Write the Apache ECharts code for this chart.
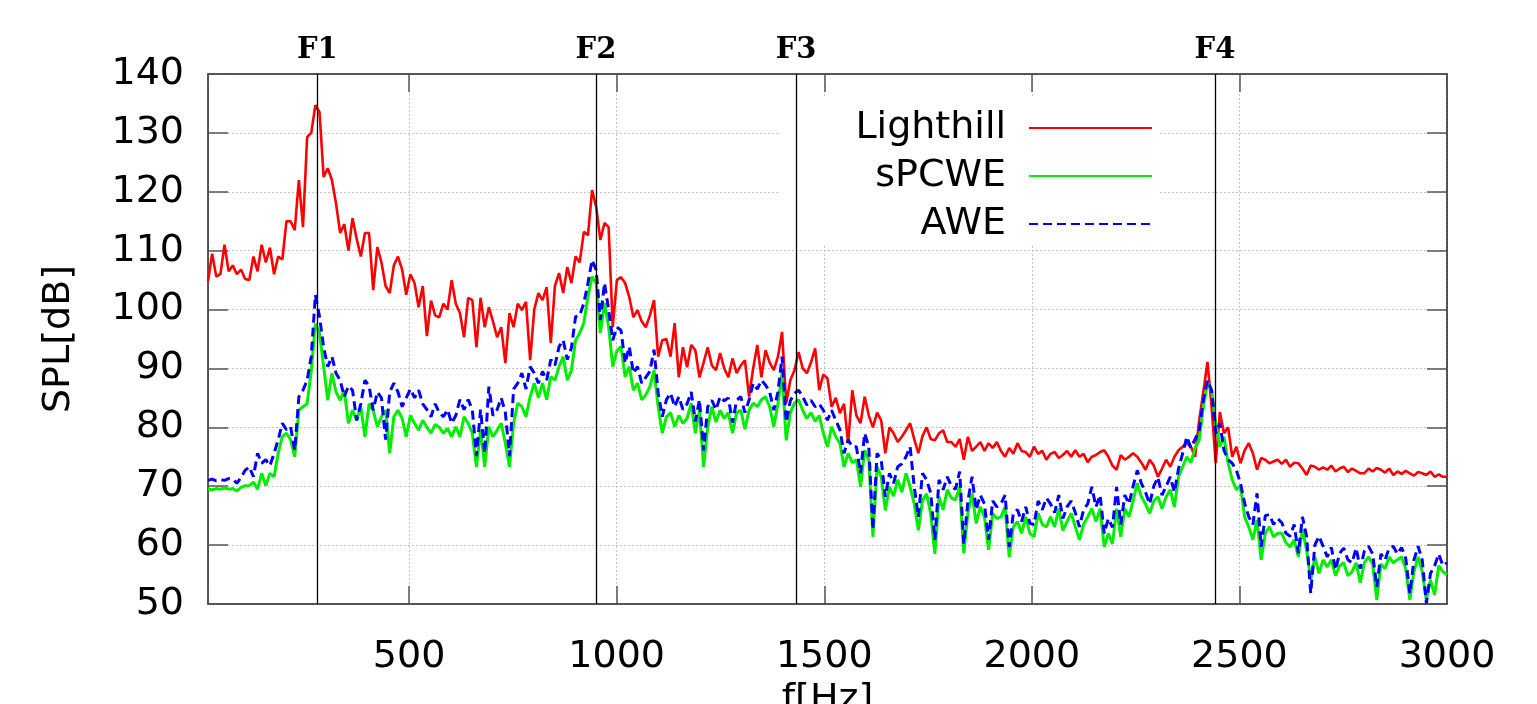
<!DOCTYPE html>
<html>
<head>
<meta charset="utf-8">
<script src="https://cdn.jsdelivr.net/npm/echarts@6/dist/echarts.min.js"></script>
<style>
html,body{margin:0;padding:0;background:#fff;}
#chart{width:1537px;height:704px;}
</style>
</head>
<body>
<div id="chart"></div>
<script>
// Frequency sampling grid (Hz): first bin and bin width
const F_START = 15.6;
const F_STEP = 9.948;

// Resonance markers
const markerFreqs = [279, 950, 1432, 2441];
const markerNames = ['F1', 'F2', 'F3', 'F4'];

const seriesNames = ['Lighthill', 'sPCWE', 'AWE'];

// SPL [dB], Lighthill
const lighthill = [
104.8,109.5,105.6,106,111,106.5,107.5,106,106.8,105.2,
105,109,106.5,111,108,110.5,106,109,108.5,115,
115,113.5,122,114,129.3,130,134.7,133.5,122.5,124,
122,118,113,114.5,110,115.5,112,109,113,113,
103.3,110.6,108,104,102.8,107.5,109,106.8,102.5,106,
104.5,100.4,104,95.5,101.5,99,98.7,101,100,105,
101,99.4,95.3,102,101.6,93.6,102,97,100.4,98,
95.3,97,90.9,99.4,97,101,99.9,101.3,91.4,100,
102.8,101.6,103.8,94.3,104,106.2,102.8,107.2,104.5,109,
108,113.2,112.6,120.3,117.4,111.8,114.7,114,97,105,
105.5,104.5,102.1,98.7,99.9,98,97,99,101.6,92,
94.8,95,92,97.7,88.5,93.6,90.2,94,93.1,88.5,
91,93.6,90.5,89.7,92.6,90,88.5,91.7,89.2,90.5,
91.4,85.2,90,94,88.5,93.1,91,89.7,92,96.2,
84.1,88,89.7,92.8,90,89.2,91,93.4,86.3,89,
88.3,83.5,85,82.4,84,77.3,86.3,82,80.7,85.2,
82,80,82.5,81.2,75.6,80,79,77.5,78.4,79.5,
80.7,78,75.6,78.5,80,78,77.8,79,79.5,77.5,
77.5,76.7,78,74.5,78.4,76,76.7,77.5,76,77.3,
76.5,77.5,76,75,76.5,75.5,77.3,76,75.8,75,
76.7,75.5,76,74.5,75.5,75.8,74.8,75.3,76,75,
76.1,75,75.5,74.1,75,75.3,75.8,76.1,75,73.5,
72.8,75.3,74.5,75,75.6,75,74,72.8,74.5,73.5,
71.6,73,74.5,73.3,75,76.1,76.7,77.3,76.7,75,
81.2,86,91.1,83.5,73.9,82.6,79,80,75,76.7,
73.9,76.1,77.3,75.6,72.8,74.8,74.5,73.9,74.2,74.5,
73.8,74.5,73.3,74,73.9,73,71.9,73.5,73.3,72.8,
73.2,72.8,73.5,72.5,73,73.3,72.4,73,72.6,72.2,
72.2,73,72.5,73.1,72.8,72.3,73,71.9,72.5,72.1,
72.6,72.2,71.8,72.4,72.2,71.9,72.5,71.6,72,71.6,
71.6
];

// SPL [dB], sPCWE
const spcwe = [
69.5,69.4,69.6,69.5,69.7,69.5,69.6,69.2,69.8,70.1,
70.1,70.7,69.5,72.2,70.1,72.2,71.6,75.6,78.4,79,
77.9,75,82.9,83.5,84,89.5,97.6,96,90.3,84.6,
89.2,86,84.6,86.3,80.7,82.9,81.2,83.5,78.4,84,
82.9,80.1,81.8,82.9,75.6,81.8,82.9,81.5,78.4,82,
80.7,79.5,81.2,80,79,80.5,80,79,79.8,78.4,
80.1,78.4,81.8,80.7,79,73.3,79.6,73.3,80.1,78.4,
79.5,80.7,77.3,73.3,80.7,84.1,83.5,81.8,85.2,87.5,
85,87.5,84.7,88.6,88,90.3,92,88,89.7,94.8,
96,97.7,102.2,105.6,104.5,96,101.1,97.1,90.3,93,
93.7,88.6,90.3,86.3,87.5,84.7,85.5,86.9,89.7,83.5,
79,81.8,82.5,80.1,82,80.7,81.5,84.1,79,82.9,
73.3,80.1,83.5,80.9,82.9,81.5,82.5,79,82.5,82.9,
79.7,82.9,84.1,83.5,84.7,85.2,83.5,80.1,84,89.2,
77.8,82.5,84.1,84.7,82.9,81.5,82.5,81,82,79,
76.7,80.1,78.4,77.3,73.3,75.6,74,74.5,69.9,76.1,
74.5,61.4,73.3,71.6,65.9,69.9,68.3,71.1,69,72.2,
69.9,67,62.5,67.6,68.7,65.3,58.5,68.2,66,69.4,
68,67.7,69.9,58.6,65.4,68.8,63.7,66.5,64.8,59.2,
65.4,64.5,64.8,66.5,58,63.1,64,62,64.8,62,
61.4,65.4,63.5,63.1,64.8,63.1,66.2,62.5,64,65.4,
63.1,60.9,63.5,64.8,66.2,64,66.2,59.7,62,60.2,
66.2,61.4,66.2,64.8,67.5,70.5,68.2,67,65.4,67.5,
68.2,66.2,68.2,69.4,66.5,71.6,73.3,75,74,76.5,
77.8,83.5,87.5,86.3,80.7,76.7,78.4,73.9,71.1,69.4,
70,64.8,63.1,60.9,64.3,57.5,62,63.1,61.4,62,
62,60.4,59.7,60.9,58,62.6,59.2,54.1,58,55.2,
57.5,56.3,57.5,54.8,56.5,57,54.8,55.5,57,53.6,
57,58,56.8,50.7,56.8,56,58,57,57.5,58,
56,50.7,55.5,58,55.5,50.7,54.1,51.5,56.5,55.5,
55
];

// SPL [dB], AWE
const awe = [
71,71.2,70.9,71.1,71,71.3,71.2,70.5,71.5,72.7,
73.3,71.6,75.6,73.9,74.5,73.5,75.6,77.9,80.7,79.6,
80.1,76.1,85.2,86.3,88,92,102.5,98.8,93.6,90.3,
92,89.2,88,85.2,87,86.3,81.2,84,88,87,
82.9,86,85,77.9,86,87.5,86,83.5,85,86.5,
85,86.3,84,83,81.8,84,82.5,81.8,83,80.7,
82,84.7,83,84.7,83,75.1,83,75.6,86.9,82,
83,85,82.5,75.1,86.5,87.5,89.2,86.5,90.3,89.2,
87.5,89.5,88,91.5,90.5,93.7,94.8,91.5,93.5,98.8,
99,101.1,104.5,108.4,106.7,98.2,104.5,100,94.8,97,
96.5,90.9,93.7,89.2,90.3,87.5,88.5,89.5,93.2,85.8,
81.8,84.7,85.8,83.5,85.2,83,84,86,81,84.7,
76.1,83.5,84.6,83,85.2,84.5,85,80.8,84.6,85.2,
82.5,84.6,87.5,86.5,88,87.2,86,82.9,86,92,
80.9,84.5,85.8,86.3,85.2,83.8,84.6,83.5,84,82.9,
81.2,82.9,81.2,79.6,75.6,77.9,76.7,76.7,72.2,79,
76.7,62.6,75.6,74.5,68.2,72.2,70.5,73.3,73.8,75,
76.7,69.9,64.8,72.2,71.1,68.8,60.9,71.1,69.4,71.6,
70,69.5,72.5,60.2,67.5,71.6,66,68.5,67,60.9,
67.5,66.5,67,68.5,59.7,65.5,66,64,66.5,63.7,
63.5,67.5,66,68,67,65.5,68.5,64.5,66.5,67.5,
65.5,63.1,66,67,69.9,66.5,68.5,62,64.5,63,
69.9,63.5,68.5,67,70,72.7,70.5,69,67,70,
71.5,68.5,70,71.6,69,73,75.6,78.4,76.5,78,
79.5,84.6,88,86.3,79,80.7,76.1,74.5,73.9,72.7,
70.5,67.1,64.8,63.5,68.8,59.7,65,65.2,63.5,64.5,
63.8,62,61.5,63.5,58.6,64.8,61.5,51.8,60,61.5,
59.8,58,59.6,55.8,58.6,59.5,57.5,57,59.5,56,
59,59.8,58.5,52.9,58.5,57.5,59.5,59.8,58.5,59.6,
57.8,51.8,57.5,59.8,57.5,50.1,55.2,56.5,58.5,56.5,
57
];

const freqs = lighthill.map((_, i) => +(F_START + i * F_STEP).toFixed(2));
const toPairs = vals => vals.map((v, i) => [freqs[i], v]);

const FONT = 'DejaVu Sans';
const chart = echarts.init(document.getElementById('chart'), null, {renderer: 'canvas'});

const axisLineStyle = {color: '#222', width: 1.5};
const tickStyle = {color: '#555', width: 1.5};
const gridStyle = {color: '#c4c4c4', type: [2, 2], width: 1};

const option = {
  animation: false,
  backgroundColor: '#ffffff',
  grid: {left: 208, right: 90, top: 74, bottom: 100, containLabel: false, outerBoundsMode: 'none'},
  legend: {
    orient: 'vertical',
    right: 377,
    top: 97,
    align: 'right',
    itemWidth: 123,
    itemHeight: 20,
    itemGap: 8,
    padding: [11, 7, 2, 75],
    backgroundColor: '#ffffff',
    selectedMode: false,
    itemStyle: {color: 'rgba(0,0,0,0)', borderWidth: 0},
    textStyle: {fontSize: 38, fontFamily: FONT, color: '#000', lineHeight: 40, padding: [0, 18, 0, 0]},
    data: seriesNames
  },
  xAxis: [{
    type: 'value',
    min: F_START,
    max: 3000,
    splitNumber: 6,
    axisLine: {show: true, onZero: false, lineStyle: axisLineStyle},
    axisTick: {show: true, inside: true, length: 18, lineStyle: tickStyle},
    axisLabel: {fontSize: 38, fontFamily: FONT, color: '#000', margin: 34,
      formatter: v => (v < 100 ? '' : String(Math.round(v)))},
    splitLine: {show: true, lineStyle: gridStyle},
    name: 'f[Hz]',
    nameLocation: 'middle',
    nameGap: 66,
    nameTextStyle: {fontSize: 38, fontFamily: FONT, color: '#000'}
  }, {
    type: 'value',
    position: 'top',
    min: F_START,
    max: 3000,
    splitNumber: 6,
    axisLine: {show: true, onZero: false, lineStyle: axisLineStyle},
    axisTick: {show: true, inside: true, length: 18, lineStyle: tickStyle},
    axisLabel: {show: false},
    splitLine: {show: false}
  }],
  yAxis: [{
    type: 'value',
    min: 50,
    max: 140,
    interval: 10,
    axisLine: {show: true, onZero: false, lineStyle: axisLineStyle},
    axisTick: {show: true, inside: true, length: 20, lineStyle: tickStyle},
    axisLabel: {fontSize: 38, fontFamily: FONT, color: '#000', margin: 24},
    splitLine: {show: true, lineStyle: gridStyle},
    name: 'SPL[dB]',
    nameLocation: 'middle',
    nameRotate: 90,
    nameGap: 130,
    nameTextStyle: {fontSize: 38, fontFamily: FONT, color: '#000'}
  }, {
    type: 'value',
    position: 'right',
    min: 50,
    max: 140,
    interval: 10,
    axisLine: {show: true, onZero: false, lineStyle: axisLineStyle},
    axisTick: {show: true, inside: true, length: 20, lineStyle: tickStyle},
    axisLabel: {show: false},
    splitLine: {show: false}
  }],
  series: [{
    name: seriesNames[0],
    type: 'line',
    data: toPairs(lighthill),
    symbol: 'none',
    showSymbol: false,
    lineStyle: {color: '#ff0000', width: 2.6},
    itemStyle: {color: '#ff0000'},
    emphasis: {disabled: true},
    markLine: {
      silent: true,
      symbol: ['none', 'none'],
      lineStyle: {color: '#000', width: 1.3, type: 'solid'},
      label: {show: true, position: 'end', formatter: '{b}', distance: 9,
        fontFamily: 'DejaVu Serif', fontWeight: 'bold', fontSize: 29, color: '#000'},
      emphasis: {disabled: true},
      data: markerFreqs.map((f, i) => ({xAxis: f, name: markerNames[i]}))
    }
  }, {
    name: seriesNames[1],
    type: 'line',
    data: toPairs(spcwe),
    symbol: 'none',
    showSymbol: false,
    lineStyle: {color: '#00ee00', width: 3},
    itemStyle: {color: '#00ee00'},
    emphasis: {disabled: true}
  }, {
    name: seriesNames[2],
    type: 'line',
    data: toPairs(awe),
    symbol: 'none',
    showSymbol: false,
    lineStyle: {color: '#0000ff', width: 3, type: [9, 5]},
    itemStyle: {color: '#0000ff'},
    emphasis: {disabled: true}
  }]
};
chart.setOption(option);
</script>
</body>
</html>
